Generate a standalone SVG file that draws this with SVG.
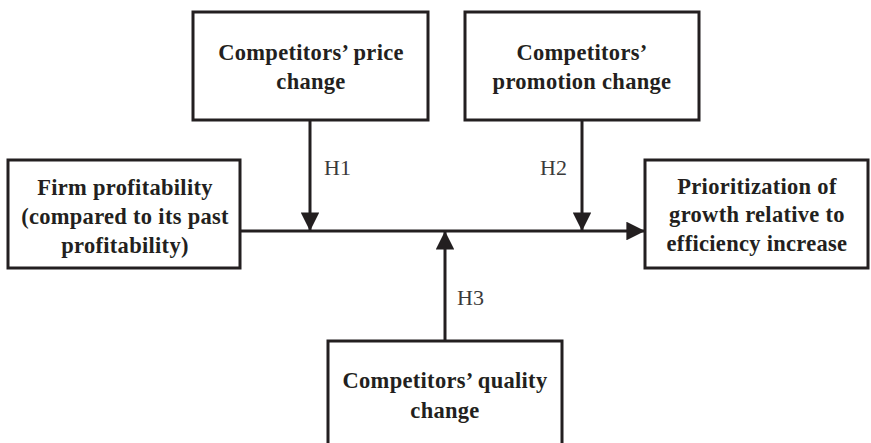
<svg xmlns="http://www.w3.org/2000/svg" width="871" height="443" viewBox="0 0 871 443">
<style>
.box{fill:#fff;stroke:#231f20;stroke-width:3}
.t{font-family:"Liberation Serif","Times New Roman",serif;font-weight:bold;font-size:22.5px;letter-spacing:0.3px;fill:#231f20;text-anchor:middle}
.h{font-family:"Liberation Serif","Times New Roman",serif;font-size:22px;fill:#3a3a3a}
.ln{stroke:#231f20;stroke-width:3;fill:none}
</style>
<defs>
<marker id="ah" viewBox="0 0 10 10" refX="10" refY="5" markerWidth="6.2" markerHeight="6.2" markerUnits="strokeWidth" orient="auto">
<path d="M0,0 L10,5 L0,10 Z" fill="#231f20"/>
</marker>
</defs>
<rect width="871" height="443" fill="#fff"/>
<g id="connectors">
<line class="ln" x1="240" y1="231" x2="645" y2="231" marker-end="url(#ah)"/>
<line class="ln" x1="310" y1="120" x2="310" y2="231" marker-end="url(#ah)"/>
<line class="ln" x1="582" y1="120" x2="582" y2="231" marker-end="url(#ah)"/>
<line class="ln" x1="445" y1="341" x2="445" y2="231" marker-end="url(#ah)"/>
<text class="h" x="324" y="175">H1</text>
<text class="h" x="540" y="175">H2</text>
<text class="h" x="457" y="305">H3</text>
</g>
<g id="firm">
<rect class="box" x="8" y="160" width="232" height="108"/>
<text class="t" x="125" y="195">Firm profitability</text>
<text class="t" x="125" y="224">(compared to its past</text>
<text class="t" x="125" y="253">profitability)</text>
</g>
<g id="price">
<rect class="box" x="193" y="12" width="235" height="108"/>
<text class="t" x="311" y="60">Competitors’ price</text>
<text class="t" x="311" y="89">change</text>
</g>
<g id="promotion">
<rect class="box" x="465" y="12" width="234" height="108"/>
<text class="t" x="582" y="60">Competitors’</text>
<text class="t" x="582" y="89">promotion change</text>
</g>
<g id="prioritization">
<rect class="box" x="645" y="160" width="223" height="108"/>
<text class="t" x="757" y="194">Prioritization of</text>
<text class="t" x="757" y="222">growth relative to</text>
<text class="t" x="757" y="251">efficiency increase</text>
</g>
<g id="quality">
<rect class="box" x="328" y="341" width="234" height="108"/>
<text class="t" x="445" y="388">Competitors’ quality</text>
<text class="t" x="445" y="418">change</text>
</g>
</svg>
